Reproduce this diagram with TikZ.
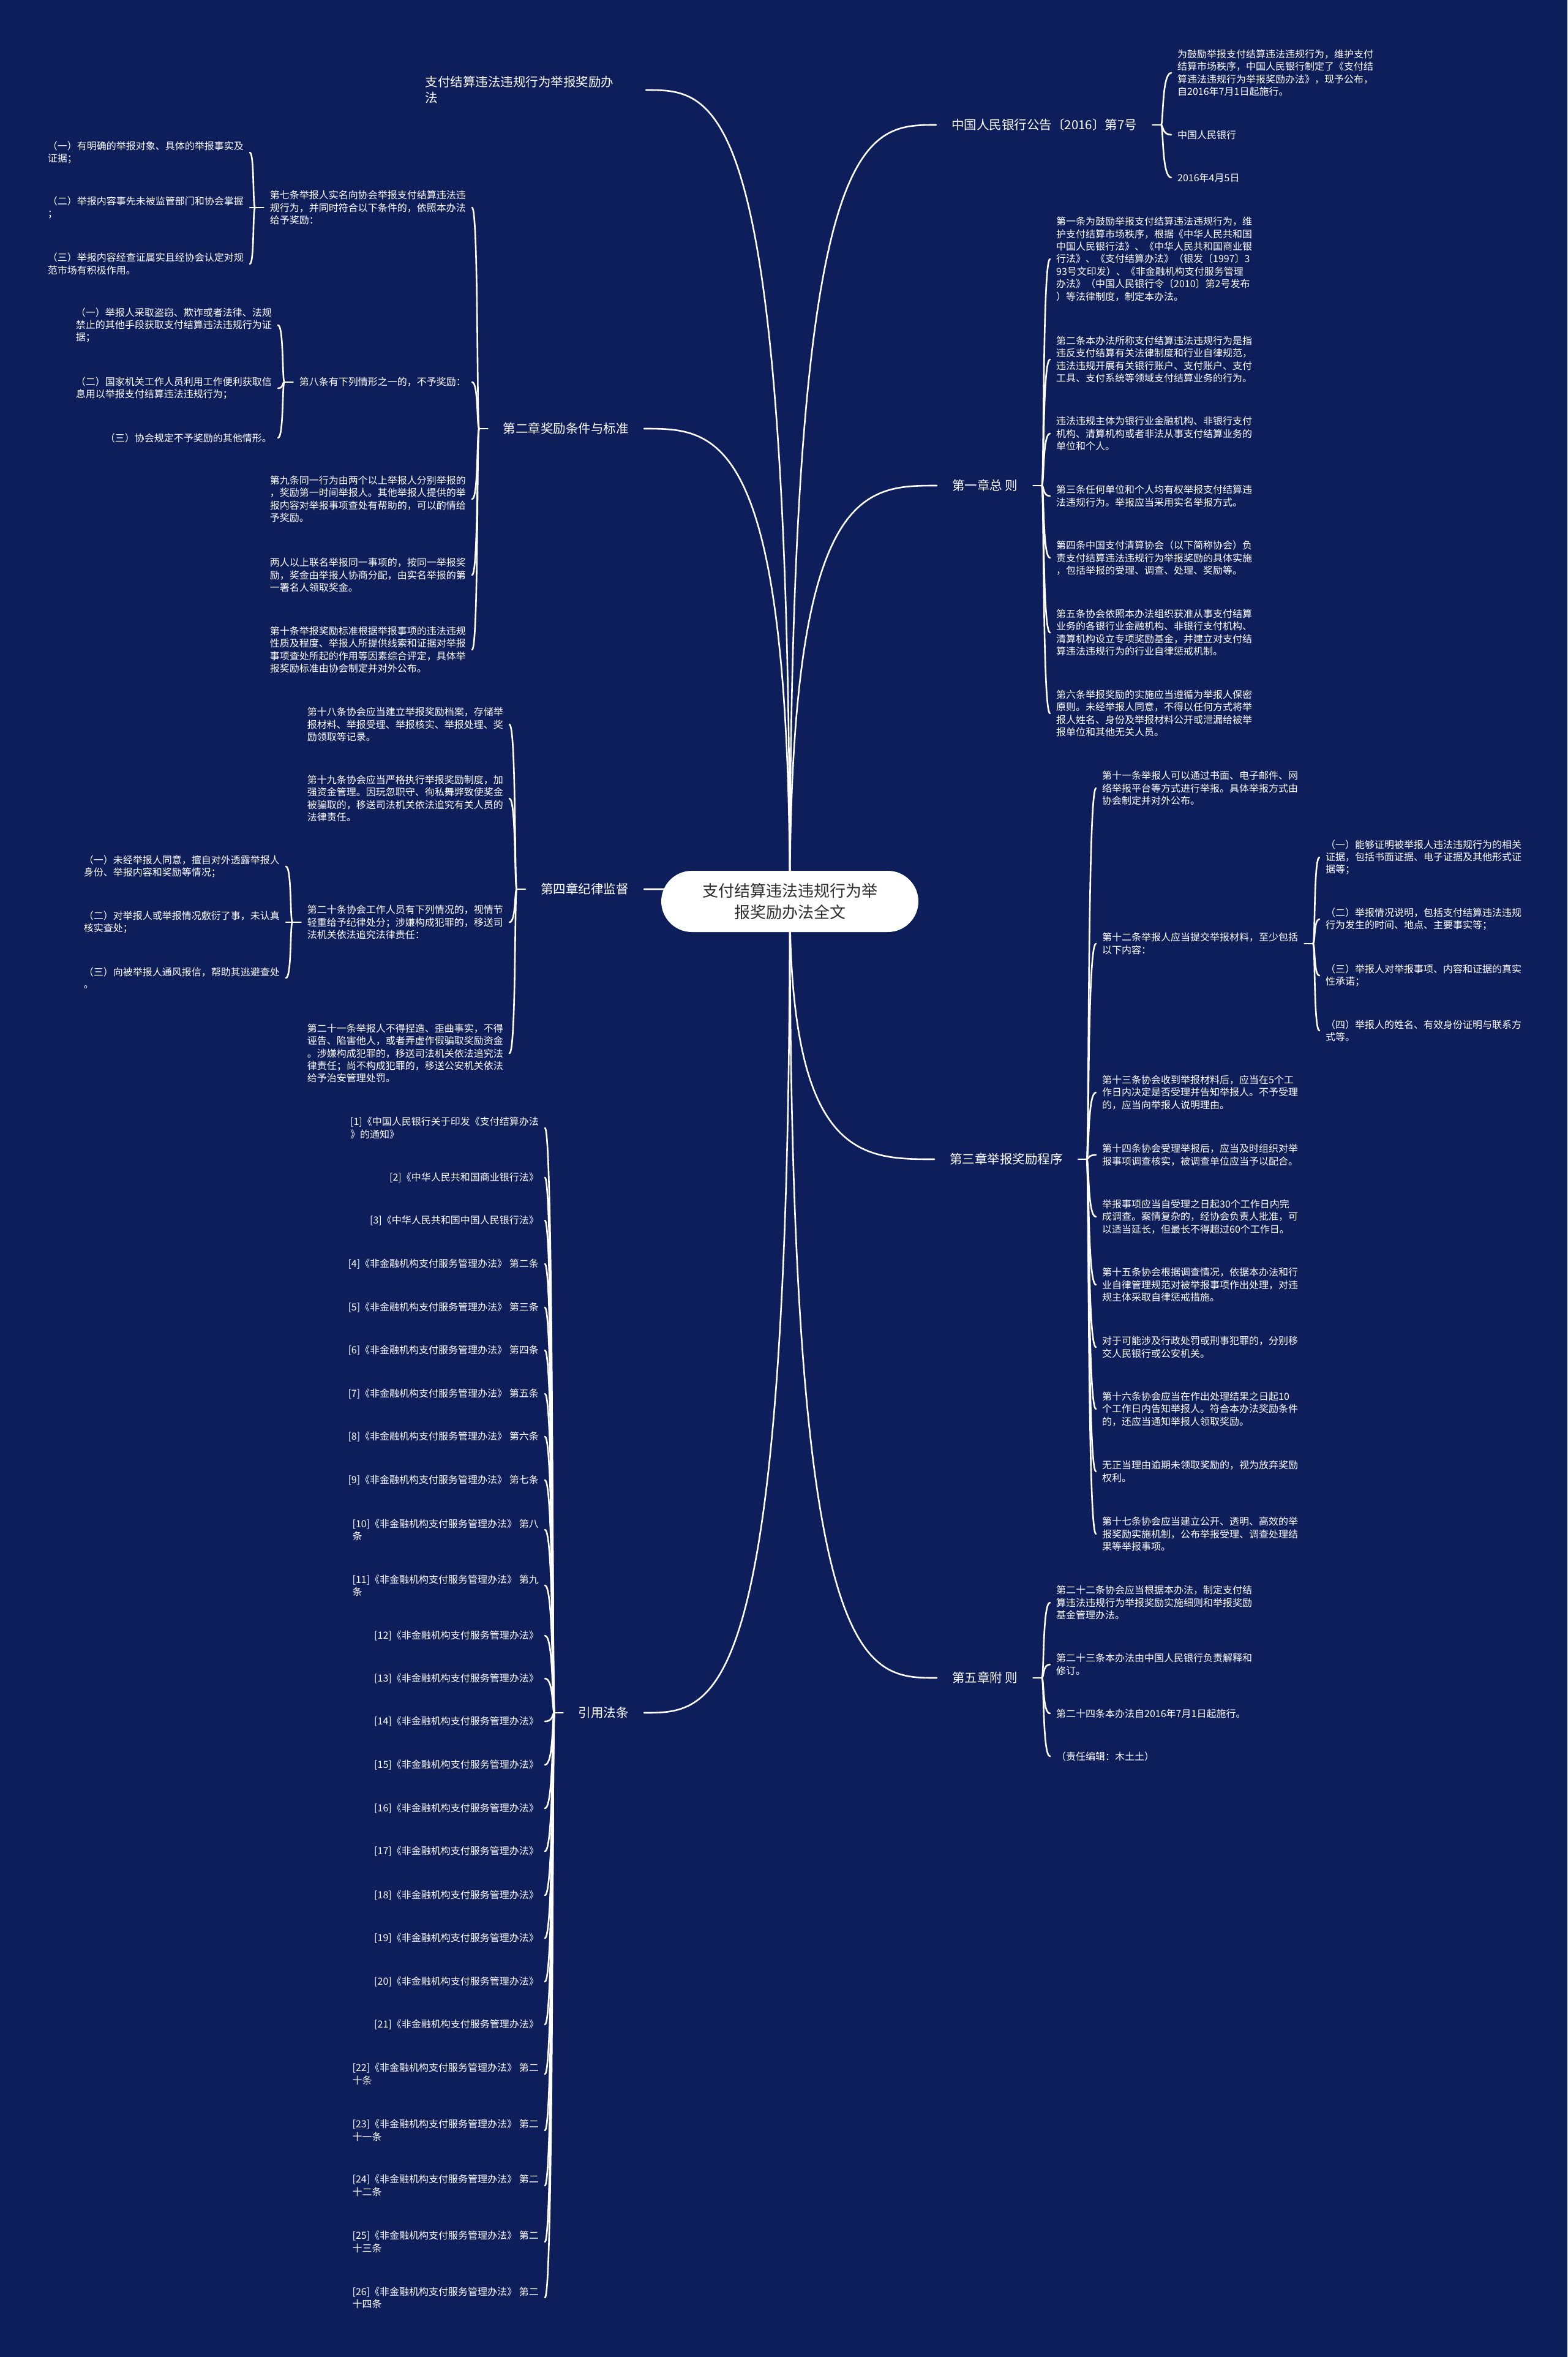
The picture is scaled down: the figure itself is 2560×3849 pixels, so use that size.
\documentclass[tikz,border=0pt]{standalone}
\usepackage{fontspec}
\usetikzlibrary{calc}
\newfontfamily\cjk{Noto Sans CJK SC}
\definecolor{bgc}{RGB}{14,30,90}
\definecolor{rootc}{RGB}{45,45,45}
\pgfdeclarelayer{bgl}\pgfdeclarelayer{midl}\pgfsetlayers{bgl,midl,main}
\newcommand\kidsR[2]{%
 \draw[conn] (#1.east) -- ++(14,0) coordinate (#1t);
 \foreach \k in {#2}{\draw[conn] (#1t) .. controls ($(#1t)+(4,0)$) and ($(#1t|-\k.west)+(1,0)$) .. (\k.west);}}
\newcommand\kidsL[2]{%
 \draw[conn] (#1.west) -- ++(-14,0) coordinate (#1t);
 \foreach \k in {#2}{\draw[conn] (#1t) .. controls ($(#1t)+(-4,0)$) and ($(#1t|-\k.east)+(-1,0)$) .. (\k.east);}}
\begin{document}
\begin{tikzpicture}[x=1pt,y=-1pt,
 conn/.style={draw=white,line width=2.6pt,line cap=round},
 leaf/.style={text=white,font={\cjk\fontsize{16}{20.4}\selectfont},align=left,inner xsep=10pt,inner ysep=0pt},
 leafR/.style={leaf,anchor=west},
 leafL/.style={leaf,anchor=east},
 branch/.style={text=white,font={\cjk\fontsize{20.5}{26}\selectfont},align=left,inner xsep=25pt,inner ysep=2pt},
 rootn/.style={fill=white,text=rootc,rounded corners=50pt,minimum width=420pt,minimum height=100pt,align=center,font={\cjk\fontsize{26}{35}\selectfont}}]
\useasboundingbox (0,0) rectangle (2560,3849);
\begin{pgfonlayer}{bgl}
\fill[bgc] (0,0) rectangle (2560,3849);
\end{pgfonlayer}

\node[rootn] (root) at (1290,1472) {支付结算违法违规行为举\\报奖励办法全文};

% ---------- right: announcement ----------
\node[branch,anchor=west] (b1) at (1529,204) {中国人民银行公告〔2016〕第7号};
\node[leafR] (b1a) at (1913,119) {为鼓励举报支付结算违法违规行为，维护支付\\结算市场秩序，中国人民银行制定了《支付结\\算违法违规行为举报奖励办法》，现予公布，\\自2016年7月1日起施行。};
\node[leafR] (b1b) at (1913,220) {中国人民银行};
\node[leafR] (b1c) at (1913,290) {2016年4月5日};

% ---------- right: chapter 1 ----------
\node[branch,anchor=west] (b2) at (1530,793) {第一章总 则};
\node[leafR] (b2a) at (1715,423) {第一条为鼓励举报支付结算违法违规行为，维\\护支付结算市场秩序，根据《中华人民共和国\\中国人民银行法》、《中华人民共和国商业银\\行法》、《支付结算办法》（银发〔1997〕3\\93号文印发）、《非金融机构支付服务管理\\办法》（中国人民银行令〔2010〕第2号发布\\）等法律制度，制定本办法。};
\node[leafR] (b2b) at (1715,587) {第二条本办法所称支付结算违法违规行为是指\\违反支付结算有关法律制度和行业自律规范，\\违法违规开展有关银行账户、支付账户、支付\\工具、支付系统等领域支付结算业务的行为。};
\node[leafR] (b2c) at (1715,708) {违法违规主体为银行业金融机构、非银行支付\\机构、清算机构或者非法从事支付结算业务的\\单位和个人。};
\node[leafR] (b2d) at (1715,810) {第三条任何单位和个人均有权举报支付结算违\\法违规行为。举报应当采用实名举报方式。};
\node[leafR] (b2e) at (1715,911) {第四条中国支付清算协会（以下简称协会）负\\责支付结算违法违规行为举报奖励的具体实施\\，包括举报的受理、调查、处理、奖励等。};
\node[leafR] (b2f) at (1715,1033) {第五条协会依照本办法组织获准从事支付结算\\业务的各银行业金融机构、非银行支付机构、\\清算机构设立专项奖励基金，并建立对支付结\\算违法违规行为的行业自律惩戒机制。};
\node[leafR] (b2g) at (1715,1165) {第六条举报奖励的实施应当遵循为举报人保密\\原则。未经举报人同意，不得以任何方式将举\\报人姓名、身份及举报材料公开或泄漏给被举\\报单位和其他无关人员。};

% ---------- right: chapter 3 ----------
\node[branch,anchor=west] (b3) at (1526,1893) {第三章举报奖励程序};
\node[leafR] (b3a) at (1790,1287) {第十一条举报人可以通过书面、电子邮件、网\\络举报平台等方式进行举报。具体举报方式由\\协会制定并对外公布。};
\node[leafR] (b3b) at (1790,1541) {第十二条举报人应当提交举报材料，至少包括\\以下内容：};
\node[leafR] (b3b1) at (2155,1400) {（一）能够证明被举报人违法违规行为的相关\\证据，包括书面证据、电子证据及其他形式证\\据等；};
\node[leafR] (b3b2) at (2155,1501) {（二）举报情况说明，包括支付结算违法违规\\行为发生的时间、地点、主要事实等；};
\node[leafR] (b3b3) at (2155,1593) {（三）举报人对举报事项、内容和证据的真实\\性承诺；};
\node[leafR] (b3b4) at (2155,1683) {（四）举报人的姓名、有效身份证明与联系方\\式等。};
\node[leafR] (b3c) at (1790,1784) {第十三条协会收到举报材料后，应当在5个工\\作日内决定是否受理并告知举报人。不予受理\\的，应当向举报人说明理由。};
\node[leafR] (b3d) at (1790,1886) {第十四条协会受理举报后，应当及时组织对举\\报事项调查核实，被调查单位应当予以配合。};
\node[leafR] (b3e) at (1790,1987) {举报事项应当自受理之日起30个工作日内完\\成调查。案情复杂的，经协会负责人批准，可\\以适当延长，但最长不得超过60个工作日。};
\node[leafR] (b3f) at (1790,2098) {第十五条协会根据调查情况，依据本办法和行\\业自律管理规范对被举报事项作出处理，对违\\规主体采取自律惩戒措施。};
\node[leafR] (b3g) at (1790,2200) {对于可能涉及行政处罚或刑事犯罪的，分别移\\交人民银行或公安机关。};
\node[leafR] (b3h) at (1790,2301) {第十六条协会应当在作出处理结果之日起10\\个工作日内告知举报人。符合本办法奖励条件\\的，还应当通知举报人领取奖励。};
\node[leafR] (b3i) at (1790,2403) {无正当理由逾期未领取奖励的，视为放弃奖励\\权利。};
\node[leafR] (b3j) at (1790,2505) {第十七条协会应当建立公开、透明、高效的举\\报奖励实施机制，公布举报受理、调查处理结\\果等举报事项。};

% ---------- right: chapter 5 ----------
\node[branch,anchor=west] (b4) at (1530,2740) {第五章附 则};
\node[leafR] (b4a) at (1715,2617) {第二十二条协会应当根据本办法，制定支付结\\算违法违规行为举报奖励实施细则和举报奖励\\基金管理办法。};
\node[leafR] (b4b) at (1715,2718) {第二十三条本办法由中国人民银行负责解释和\\修订。};
\node[leafR] (b4c) at (1715,2798) {第二十四条本办法自2016年7月1日起施行。};
\node[leafR] (b4d) at (1715,2868) {（责任编辑：木土土）};

% ---------- left: title ----------
\node[branch,anchor=east,text width=335pt] (t0) at (1055,147) {支付结算违法违规行为举报奖励办\\法};

% ---------- left: chapter 2 ----------
\node[branch,anchor=east] (b5) at (1052,700) {第二章奖励条件与标准};
\node[leafL] (b5a) at (771,339) {第七条举报人实名向协会举报支付结算违法违\\规行为，并同时符合以下条件的，依照本办法\\给予奖励：};
\node[leafL] (b5a1) at (408,249) {（一）有明确的举报对象、具体的举报事实及\\证据；};
\node[leafL] (b5a2) at (408,339) {（二）举报内容事先未被监管部门和协会掌握\\；};
\node[leafL] (b5a3) at (408,431) {（三）举报内容经查证属实且经协会认定对规\\范市场有积极作用。};
\node[leafL] (b5b) at (771,624) {第八条有下列情形之一的，不予奖励：};
\node[leafL] (b5b1) at (454,531) {（一）举报人采取盗窃、欺诈或者法律、法规\\禁止的其他手段获取支付结算违法违规行为证\\据；};
\node[leafL] (b5b2) at (454,634) {（二）国家机关工作人员利用工作便利获取信\\息用以举报支付结算违法违规行为；};
\node[leafL] (b5b3) at (454,715) {（三）协会规定不予奖励的其他情形。};
\node[leafL] (b5c) at (771,815) {第九条同一行为由两个以上举报人分别举报的\\，奖励第一时间举报人。其他举报人提供的举\\报内容对举报事项查处有帮助的，可以酌情给\\予奖励。};
\node[leafL] (b5d) at (771,939) {两人以上联名举报同一事项的，按同一举报奖\\励，奖金由举报人协商分配，由实名举报的第\\一署名人领取奖金。};
\node[leafL] (b5e) at (771,1061) {第十条举报奖励标准根据举报事项的违法违规\\性质及程度、举报人所提供线索和证据对举报\\事项查处所起的作用等因素综合评定，具体举\\报奖励标准由协会制定并对外公布。};

% ---------- left: chapter 4 ----------
\node[branch,anchor=east] (b6) at (1052,1452) {第四章纪律监督};
\node[leafL] (b6a) at (832,1183) {第十八条协会应当建立举报奖励档案，存储举\\报材料、举报受理、举报核实、举报处理、奖\\励领取等记录。};
\node[leafL] (b6b) at (832,1304) {第十九条协会应当严格执行举报奖励制度，加\\强资金管理。因玩忽职守、徇私舞弊致使奖金\\被骗取的，移送司法机关依法追究有关人员的\\法律责任。};
\node[leafL] (b6c) at (832,1506) {第二十条协会工作人员有下列情况的，视情节\\轻重给予纪律处分；涉嫌构成犯罪的，移送司\\法机关依法追究法律责任：};
\node[leafL] (b6c1) at (467,1415) {（一）未经举报人同意，擅自对外透露举报人\\身份、举报内容和奖励等情况；};
\node[leafL] (b6c2) at (467,1506) {（二）对举报人或举报情况敷衍了事，未认真\\核实查处；};
\node[leafL] (b6c3) at (467,1597) {（三）向被举报人通风报信，帮助其逃避查处\\。};
\node[leafL] (b6d) at (832,1720) {第二十一条举报人不得捏造、歪曲事实，不得\\诬告、陷害他人，或者弄虚作假骗取奖励资金\\。涉嫌构成犯罪的，移送司法机关依法追究法\\律责任；尚不构成犯罪的，移送公安机关依法\\给予治安管理处罚。};

% ---------- left: references ----------
\node[branch,anchor=east] (b7) at (1052,2797) {引用法条};
\node[leafL] (r1) at (890,1842) {[1]《中国人民银行关于印发《支付结算办法\\》的通知》};
\node[leafL] (r2) at (890,1923) {[2]《中华人民共和国商业银行法》};
\node[leafL] (r3) at (890,1993) {[3]《中华人民共和国中国人民银行法》};
\node[leafL] (r4) at (890,2064) {[4]《非金融机构支付服务管理办法》 第二条};
\node[leafL] (r5) at (890,2135) {[5]《非金融机构支付服务管理办法》 第三条};
\node[leafL] (r6) at (890,2205) {[6]《非金融机构支付服务管理办法》 第四条};
\node[leafL] (r7) at (890,2276) {[7]《非金融机构支付服务管理办法》 第五条};
\node[leafL] (r8) at (890,2346) {[8]《非金融机构支付服务管理办法》 第六条};
\node[leafL] (r9) at (890,2417) {[9]《非金融机构支付服务管理办法》 第七条};
\node[leafL] (r10) at (890,2498) {[10]《非金融机构支付服务管理办法》 第八\\条};
\node[leafL] (r11) at (890,2589) {[11]《非金融机构支付服务管理办法》 第九\\条};
\node[leafL] (r12) at (890,2671) {[12]《非金融机构支付服务管理办法》};
\node[leafL] (r13) at (890,2741) {[13]《非金融机构支付服务管理办法》};
\node[leafL] (r14) at (890,2811) {[14]《非金融机构支付服务管理办法》};
\node[leafL] (r15) at (890,2882) {[15]《非金融机构支付服务管理办法》};
\node[leafL] (r16) at (890,2953) {[16]《非金融机构支付服务管理办法》};
\node[leafL] (r17) at (890,3023) {[17]《非金融机构支付服务管理办法》};
\node[leafL] (r18) at (890,3095) {[18]《非金融机构支付服务管理办法》};
\node[leafL] (r19) at (890,3165) {[19]《非金融机构支付服务管理办法》};
\node[leafL] (r20) at (890,3236) {[20]《非金融机构支付服务管理办法》};
\node[leafL] (r21) at (890,3306) {[21]《非金融机构支付服务管理办法》};
\node[leafL] (r22) at (890,3387) {[22]《非金融机构支付服务管理办法》 第二\\十条};
\node[leafL] (r23) at (890,3479) {[23]《非金融机构支付服务管理办法》 第二\\十一条};
\node[leafL] (r24) at (890,3569) {[24]《非金融机构支付服务管理办法》 第二\\十二条};
\node[leafL] (r25) at (890,3661) {[25]《非金融机构支付服务管理办法》 第二\\十三条};
\node[leafL] (r26) at (890,3752) {[26]《非金融机构支付服务管理办法》 第二\\十四条};

% ---------- connectors ----------
\begin{pgfonlayer}{midl}
\foreach \b in {b1,b2,b3,b4}
 \draw[conn] (root.center) .. controls (root.center|-\b.west) and ($(root.center|-\b.west)!0.5!(\b.west)$) .. (\b.west);
\foreach \b in {t0,b5,b6,b7}
 \draw[conn] (root.center) .. controls (root.center|-\b.east) and ($(root.center|-\b.east)!0.5!(\b.east)$) .. (\b.east);
\kidsR{b1}{b1a,b1b,b1c}
\kidsR{b2}{b2a,b2b,b2c,b2d,b2e,b2f,b2g}
\kidsR{b3}{b3a,b3b,b3c,b3d,b3e,b3f,b3g,b3h,b3i,b3j}
\kidsR{b3b}{b3b1,b3b2,b3b3,b3b4}
\kidsR{b4}{b4a,b4b,b4c,b4d}
\kidsL{b5}{b5a,b5b,b5c,b5d,b5e}
\kidsL{b5a}{b5a1,b5a2,b5a3}
\kidsL{b5b}{b5b1,b5b2,b5b3}
\kidsL{b6}{b6a,b6b,b6c,b6d}
\kidsL{b6c}{b6c1,b6c2,b6c3}
\kidsL{b7}{r1,r2,r3,r4,r5,r6,r7,r8,r9,r10,r11,r12,r13,r14,r15,r16,r17,r18,r19,r20,r21,r22,r23,r24,r25,r26}
\end{pgfonlayer}
\end{tikzpicture}
\end{document}
